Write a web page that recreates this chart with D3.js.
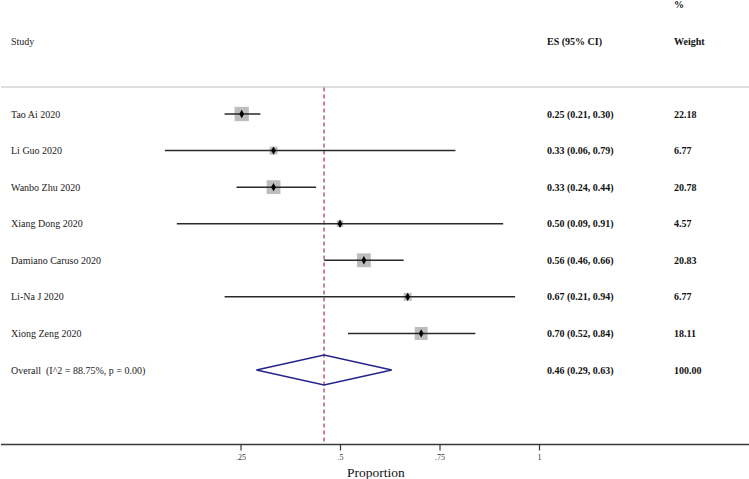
<!DOCTYPE html>
<html>
<head>
<meta charset="utf-8">
<script src="https://cdn.jsdelivr.net/npm/d3@7"></script>
<style>
  html, body { margin: 0; padding: 0; background: #fff; }
  svg { display: block; }
  text { font-family: "Liberation Serif", "Times New Roman", serif; }
</style>
</head>
<body>
<svg id="chart" width="749" height="479"></svg>
<script>
// ---- data ----
const studies = ["Tao Ai 2020", "Li Guo 2020", "Wanbo Zhu 2020", "Xiang Dong 2020",
                 "Damiano Caruso 2020", "Li-Na J 2020", "Xiong Zeng 2020"];
const es      = [0.253, 0.333, 0.333, 0.50, 0.56, 0.67, 0.704];
const lower   = [0.21, 0.06, 0.24, 0.09, 0.46, 0.21, 0.52];
const upper   = [0.30, 0.79, 0.44, 0.91, 0.66, 0.94, 0.84];
const weights = [22.18, 6.77, 20.78, 4.57, 20.83, 6.77, 18.11];
const overallLabel = "Overall  (I^2 = 88.75%, p = 0.00)";
const overallEs = 0.46, overallLo = 0.29, overallHi = 0.63, overallWeight = 100.00;
const tickValues = [0.25, 0.5, 0.75, 1];
const tickLabels = [".25", ".5", ".75", "1"];
const axisTitle = "Proportion";

// ---- layout ----
const W = 749, H = 479;
const FONT = "'Liberation Serif', 'Times New Roman', serif";
const svg = d3.select("#chart");
const f2 = d3.format(".2f");

const x = d3.scaleLinear().domain([0, 1]).range([141, 539]);
const rows = studies.concat(["__overall__"]);
const y = d3.scalePoint().domain(rows).range([114, 370]);
const side = d3.scaleSqrt().domain([0, 22.18]).range([0, 14.3]);

const axisY = 444.5;

// header
svg.append("text").attr("x", 11).attr("y", 44.5).attr("font-size", 10)
  .attr("fill", "#222").text("Study");
svg.append("text").attr("x", 547).attr("y", 44.5).attr("font-size", 10)
  .attr("font-weight", "bold").attr("fill", "#111").text("ES (95% CI)");
svg.append("text").attr("x", 674).attr("y", 8).attr("font-size", 10)
  .attr("font-weight", "bold").attr("fill", "#111").text("%");
svg.append("text").attr("x", 674).attr("y", 44.5).attr("font-size", 10)
  .attr("font-weight", "bold").attr("fill", "#111").text("Weight");

svg.append("line").attr("x1", 1).attr("x2", W).attr("y1", 87).attr("y2", 87)
  .attr("stroke", "#bdbdbd").attr("stroke-width", 1);

// reference dashed line at overall ES
svg.append("line")
  .attr("x1", x(overallEs)).attr("x2", x(overallEs))
  .attr("y1", 87.5).attr("y2", axisY)
  .attr("stroke", "#b2555f").attr("stroke-width", 1.4)
  .attr("stroke-dasharray", "4,3");

// study rows
const data = studies.map((s, i) => ({ s, es: es[i], lo: lower[i], hi: upper[i], w: weights[i] }));
const g = svg.append("g");

g.selectAll("rect.box").data(data).join("rect")
  .attr("class", "box")
  .attr("x", d => x(d.es) - side(d.w) / 2)
  .attr("y", d => y(d.s) - side(d.w) / 2)
  .attr("width", d => side(d.w))
  .attr("height", d => side(d.w))
  .attr("fill", "#bdbdbd");

g.selectAll("line.ci").data(data).join("line")
  .attr("class", "ci")
  .attr("x1", d => x(d.lo)).attr("x2", d => x(d.hi))
  .attr("y1", d => y(d.s)).attr("y2", d => y(d.s))
  .attr("stroke", "#2a2a2a").attr("stroke-width", 1.5);

g.selectAll("path.pt").data(data).join("path")
  .attr("class", "pt")
  .attr("d", d3.symbol(d3.symbolDiamond, 20))
  .attr("transform", d => `translate(${x(d.es)},${y(d.s)})`)
  .attr("fill", "#000");

g.selectAll("text.name").data(data).join("text")
  .attr("class", "name")
  .attr("x", 11).attr("y", d => y(d.s) + 3.5)
  .attr("font-size", 10).attr("fill", "#222")
  .text(d => d.s);

g.selectAll("text.es").data(data).join("text")
  .attr("class", "es")
  .attr("x", 547).attr("y", d => y(d.s) + 3.5)
  .attr("font-size", 10).attr("font-weight", "bold").attr("fill", "#111")
  .text(d => `${f2(d.es)} (${f2(d.lo)}, ${f2(d.hi)})`);

g.selectAll("text.wt").data(data).join("text")
  .attr("class", "wt")
  .attr("x", 674).attr("y", d => y(d.s) + 3.5)
  .attr("font-size", 10).attr("font-weight", "bold").attr("fill", "#111")
  .text(d => f2(d.w));

// overall
const oy = y("__overall__");
svg.append("path")
  .attr("d", `M${x(overallLo)},${oy} L${x(overallEs)},${oy - 15} L${x(overallHi)},${oy} L${x(overallEs)},${oy + 15} Z`)
  .attr("fill", "none").attr("stroke", "#23238a").attr("stroke-width", 1.3);

svg.append("text").attr("x", 11).attr("y", oy + 3.5)
  .attr("font-size", 10).attr("fill", "#222").attr("xml:space", "preserve")
  .text(overallLabel);
svg.append("text").attr("x", 547).attr("y", oy + 3.5)
  .attr("font-size", 10).attr("font-weight", "bold").attr("fill", "#111")
  .text(`${f2(overallEs)} (${f2(overallLo)}, ${f2(overallHi)})`);
svg.append("text").attr("x", 674).attr("y", oy + 3.5)
  .attr("font-size", 10).attr("font-weight", "bold").attr("fill", "#111")
  .text(f2(overallWeight));

// axis
svg.append("line").attr("x1", 1).attr("x2", W).attr("y1", axisY).attr("y2", axisY)
  .attr("stroke", "#3a3a3a").attr("stroke-width", 1.5);

const axis = d3.axisBottom(x)
  .tickValues(tickValues)
  .tickFormat((d, i) => tickLabels[i])
  .tickSize(6).tickPadding(4);
const ax = svg.append("g").attr("transform", `translate(0,${axisY})`).call(axis);
ax.attr("font-family", FONT);
ax.select(".domain").remove();
ax.selectAll(".tick line").attr("stroke", "#3a3a3a").attr("stroke-width", 1.2);
ax.selectAll(".tick text").attr("font-family", FONT)
  .attr("font-size", 8).attr("fill", "#333");

svg.append("text").attr("x", 376).attr("y", 476.5).attr("text-anchor", "middle")
  .attr("font-family", FONT)
  .attr("font-size", 13.5).attr("fill", "#111").text(axisTitle);
</script>
</body>
</html>
